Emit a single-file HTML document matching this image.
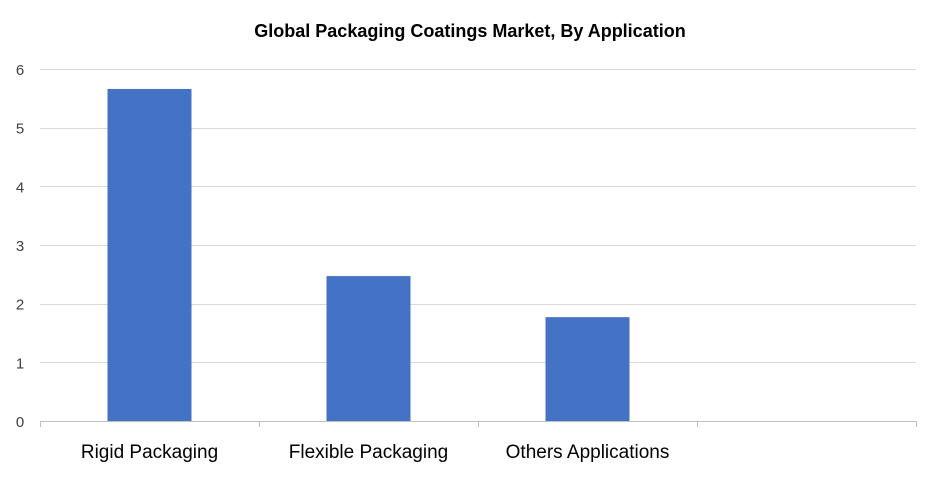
<!DOCTYPE html>
<html><head><meta charset="utf-8"><style>
body{margin:0;background:#fff;}
svg{display:block;font-family:"Liberation Sans",sans-serif;}
</style></head><body>
<svg id="chart" width="939" height="477">
<text x="470" y="37" text-anchor="middle" font-weight="bold" font-size="18" fill="#000">Global Packaging Coatings Market, By Application</text>
<g id="grid"></g><g id="bars"></g><g id="labels"></g>
</svg>
<script>
const categories = ["Rigid Packaging", "Flexible Packaging", "Others Applications", ""];
const values = [5.66, 2.47, 1.77, null];
const yTicks = [0, 1, 2, 3, 4, 5, 6];
const NS = "http://www.w3.org/2000/svg";
const x0 = 40, x1 = 916, y0 = 421, y6 = 69;
const yScale = v => y0 - (v / 6) * (y0 - y6);
const bandW = (x1 - x0) / categories.length;
const xBand = i => x0 + i * bandW;
function mk(tag, attrs, parent) { const e = document.createElementNS(NS, tag); for (const k in attrs) e.setAttribute(k, attrs[k]); parent.appendChild(e); return e; }
const grid = document.getElementById('grid'), bars = document.getElementById('bars'), labels = document.getElementById('labels');
yTicks.forEach(t => {
  const y = Math.round(yScale(t)) + 0.5;
  const l = mk('line', {x1: x0, x2: x1, y1: y, y2: y, stroke: t === 0 ? '#bfbfbf' : '#d9d9d9', 'stroke-width': 1}, grid);
  
  
  const tx = mk('text', {x: 20, y: yScale(t) + 6, 'text-anchor': 'middle', 'font-size': 15, fill: '#404040'}, labels);
  tx.textContent = t;
  
  
});
for (let i = 0; i <= categories.length; i++) {
  const x = Math.round(xBand(i)) + 0.5;
  const tk = mk('line', {x1: x, x2: x, y1: y0, y2: y0 + 6, stroke: '#bfbfbf'}, grid);
  
  
}
const barW = 84;
categories.forEach((c, i) => {
  const cx = xBand(i) + bandW / 2;
  if (values[i] != null) {
    const r = mk('rect', {x: cx - barW / 2, y: yScale(values[i]), width: barW, height: y0 - yScale(values[i]), fill: '#4472c4'}, bars);
    
    
  }
  if (c) {
    const t = mk('text', {x: cx, y: 458, 'text-anchor': 'middle', 'font-size': 19, fill: '#000'}, labels);
    t.textContent = c;
    
    
  }
});
</script>
</body></html>
